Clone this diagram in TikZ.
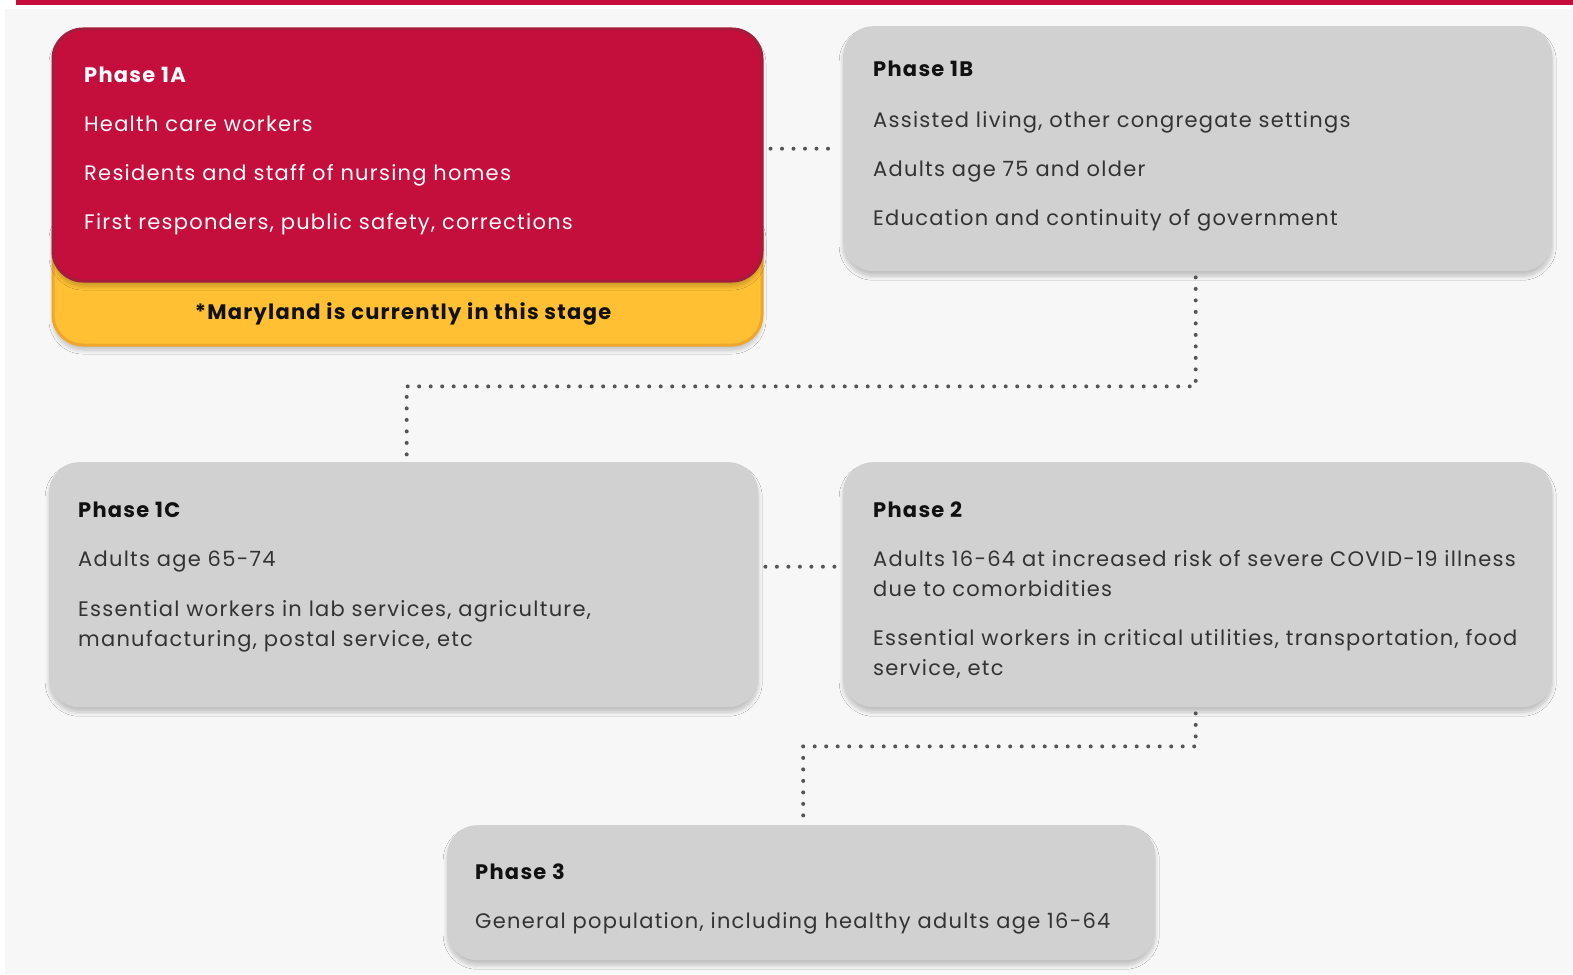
\documentclass[tikz,border=0pt]{standalone}
\usepackage{fontspec}
\setmainfont{Poppins}[LetterSpace=6.0]
\usetikzlibrary{shadows.blur}
\definecolor{pagegray}{HTML}{F7F7F7}
\definecolor{mdred}{HTML}{C40E3C}
\definecolor{mdreddark}{HTML}{A61C3C}
\definecolor{mdyellow}{HTML}{FFC133}
\definecolor{mdorange}{HTML}{F0A62A}
\definecolor{boxgray}{HTML}{D1D1D1}
\definecolor{itemgray}{HTML}{333333}
\definecolor{titleblack}{HTML}{111111}
\definecolor{dotgray}{HTML}{555555}
\tikzset{
  phasebox/.style={
    fill=boxgray,
    rounded corners=30pt,
    minimum width=709pt,
    minimum height=245pt,
    inner sep=0pt,
    anchor=north west,
    blur shadow={shadow xshift=0pt, shadow yshift=-5pt, shadow blur radius=4pt, shadow blur steps=8, shadow opacity=22}
  },
  phasetitle/.style={
    anchor=base west,
    inner sep=0pt,
    text=titleblack,
    font=\bfseries\fontsize{21}{30}\selectfont
  },
  phaseitem/.style={
    anchor=base west,
    align=left,
    inner sep=0pt,
    text=itemgray,
    font=\fontsize{21}{30}\selectfont
  },
  dotline/.style={
    draw=dotgray,
    line width=4pt,
    line cap=round,
    dash pattern=on 0pt off 11.5pt
  }
}

\begin{document}
\begin{tikzpicture}[x=1pt, y=-1pt]
  \useasboundingbox (0,0) rectangle (1573,974);
  \fill[pagegray] (5,9) rectangle (1573,974);
  \fill[mdred] (16,0) rectangle (1573,5.5);

  % phase 1A with the current stage banner
  \node[phasebox, fill=mdyellow, draw=mdorange, line width=3pt, minimum height=140pt] (stage) at (51.5,203.5) {};
  \node[phasebox, fill=mdred, draw=mdreddark, line width=3pt, minimum height=252pt] (p1A) at (51.5,27.5) {};
  \node[anchor=base, inner sep=0pt, text=titleblack, font=\bfseries\fontsize{21}{30}\selectfont] (note) at (403,319) {*Maryland is currently in this stage};
  \node[phasetitle, text=white] (t1A) at (84,82) {Phase 1A};
  \node[phaseitem, text=white] (i1A1) at (84,131) {Health care workers};
  \node[phaseitem, text=white] (i1A2) at (84,180) {Residents and staff of nursing homes};
  \node[phaseitem, text=white] (i1A3) at (84,229) {First responders, public safety, corrections};

  % phase 1B
  \node[phasebox] (p1B) at (843,26) {};
  \node[phasetitle] (t1B) at (873,77) {Phase 1B};
  \node[phaseitem] (i1B1) at (873,127) {Assisted living, other congregate settings};
  \node[phaseitem] (i1B2) at (873,176) {Adults age 75 and older};
  \node[phaseitem] (i1B3) at (873,225) {Education and continuity of government};

  % phase 1C (two-line items sit on their last baseline)
  \node[phasebox] (p1C) at (49,462) {};
  \node[phasetitle] (t1C) at (78,517) {Phase 1C};
  \node[phaseitem] (i1C1) at (78,566) {Adults age 65-74};
  \node[phaseitem] (i1C2) at (78,646) {Essential workers in lab services, agriculture,\\manufacturing, postal service, etc};

  % phase 2
  \node[phasebox] (p2) at (843,462) {};
  \node[phasetitle] (t2) at (873,517) {Phase 2};
  \node[phaseitem] (i21) at (873,596) {Adults 16-64 at increased risk of severe COVID-19 illness\\due to comorbidities};
  \node[phaseitem] (i22) at (873,675) {Essential workers in critical utilities, transportation, food\\service, etc};

  % phase 3
  \node[phasebox, minimum width=708pt, minimum height=135pt] (p3) at (447,825) {};
  \node[phasetitle] (t3) at (475,879) {Phase 3};
  \node[phaseitem] (i31) at (475,928) {General population, including healthy adults age 16-64};

  % dotted links
  \draw[dotline] ([xshift=7pt]p1A.east |- p1B.west) -- ([xshift=-5pt]p1B.west);
  \draw[dotline] ([shift={(-2pt,-6pt)}]p1B.south) -- ++(0,109) -| ([shift={(3pt,3pt)}]p1C.north);
  \draw[dotline] ([shift={(7pt,18pt)}]p1C.east) -- ([shift={(-5pt,18pt)}]p2.west);
  \draw[dotline] ([shift={(-2pt,-6pt)}]p2.south) -- ++(0,33) -| ([shift={(2pt,3pt)}]p3.north);
\end{tikzpicture}
\end{document}
